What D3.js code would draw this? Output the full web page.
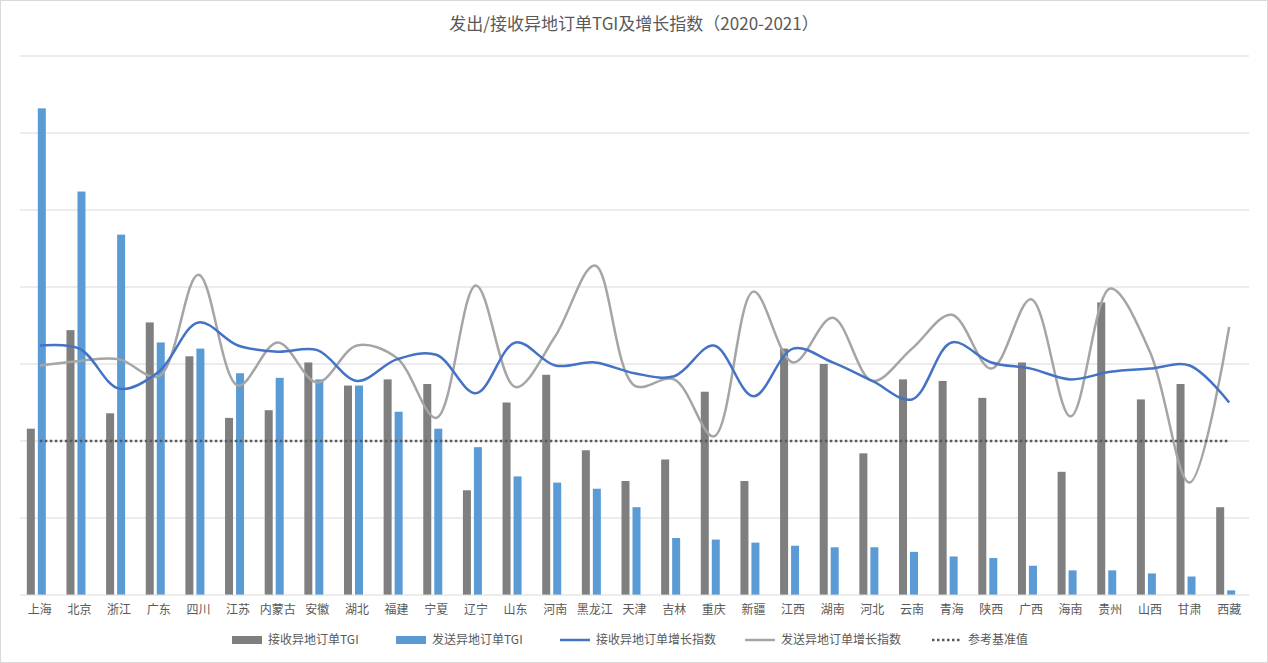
<!DOCTYPE html>
<html><head><meta charset="utf-8">
<script src="https://cdn.jsdelivr.net/npm/d3@7"></script>
<style>body{margin:0;background:#fff;font-family:"Noto Sans CJK SC","Noto Sans",sans-serif}</style>
</head><body><svg id="chart" width="1268" height="663"></svg>
<script>
var provinces = ["上海","北京","浙江","广东","四川","江苏","内蒙古","安徽","湖北","福建","宁夏","辽宁","山东","河南","黑龙江","天津","吉林","重庆","新疆","江西","湖南","河北","云南","青海","陕西","广西","海南","贵州","山西","甘肃","西藏"];
var receiveTGI = [108,172,118,177,155,115,120,151,136,140,137,68,125,143,94,74,88,132,74,160,150,92,140,139,128,151,80,190,127,137,57];
var sendTGI = [316,262,234,164,160,144,141,140,136,119,108,96,77,73,69,57,37,36,34,32,31,31,28,25,24,19,16,16,14,12,3];
var receiveGrowth = [162,160,134,145,177,162,158,159,139,153,156,131,164,149,151,144,142,162,129,160,151,139,127,164,151,147,140,145,147,149,125];
var sendGrowth = [149,152,153,142,208,136,164,138,162,154,115,201,135,168,214,136,140,103,197,151,180,139,160,182,147,192,116,199,158,73,174];
var baseline = 100;
var gridTicks = [0,50,100,150,200,250,300,350];

var svg = d3.select("#chart");
svg.append("rect").attr("x",0.5).attr("y",0.5).attr("width",1267).attr("height",662)
  .attr("fill","#fff").attr("stroke","#d9d9d9");

var x = d3.scaleBand().domain(provinces).range([20,1249]);
var y = d3.scaleLinear().domain([0,350]).range([595,56]);

svg.append("g").selectAll("line").data(gridTicks.slice(1)).enter().append("line")
  .attr("x1",20).attr("x2",1249).attr("y1",d=>y(d)).attr("y2",d=>y(d))
  .attr("stroke","#d9d9d9");

svg.append("g").selectAll("rect").data(provinces).enter().append("rect")
  .attr("x",d=>x(d)+x.bandwidth()/2-13).attr("width",8)
  .attr("y",(d,i)=>y(receiveTGI[i])).attr("height",(d,i)=>y(0)-y(receiveTGI[i]))
  .attr("fill","#7f7f7f");
svg.append("g").selectAll("rect").data(provinces).enter().append("rect")
  .attr("x",d=>x(d)+x.bandwidth()/2-2).attr("width",8)
  .attr("y",(d,i)=>y(sendTGI[i])).attr("height",(d,i)=>y(0)-y(sendTGI[i]))
  .attr("fill","#5b9bd5");

svg.append("line").attr("x1",20).attr("x2",1249).attr("y1",y(0)).attr("y2",y(0)).attr("stroke","#d9d9d9");

var line = d3.line().x((d,i)=>x(provinces[i])+x.bandwidth()/2).y(d=>y(d)).curve(d3.curveCatmullRom.alpha(0.5));
svg.append("path").attr("d",line(sendGrowth)).attr("fill","none").attr("stroke","#a5a5a5").attr("stroke-width",2.5);
svg.append("path").attr("d",line(receiveGrowth)).attr("fill","none").attr("stroke","#4472c4").attr("stroke-width",2.5);
svg.append("path").attr("d",d3.line().x((d,i)=>x(provinces[i])+x.bandwidth()/2).y(()=>y(baseline))(provinces))
  .attr("fill","none").attr("stroke","#595959").attr("stroke-width",2.5).attr("stroke-dasharray","2.5,2.5");

svg.append("g").selectAll("text").data(provinces).enter().append("text")
  .attr("x",d=>x(d)+x.bandwidth()/2).attr("y",614).attr("text-anchor","middle")
  .attr("font-size",12).attr("fill","#595959").text(d=>d);

svg.append("text").attr("x",634).attr("y",30).attr("text-anchor","middle")
  .attr("font-size",17).attr("fill","#595959").text("发出/接收异地订单TGI及增长指数（2020-2021）");

var legend = [
  {name:"接收异地订单TGI",type:"bar",color:"#7f7f7f",x:232},
  {name:"发送异地订单TGI",type:"bar",color:"#5b9bd5",x:396},
  {name:"接收异地订单增长指数",type:"line",color:"#4472c4",x:560},
  {name:"发送异地订单增长指数",type:"line",color:"#a5a5a5",x:745},
  {name:"参考基准值",type:"dot",color:"#595959",x:932}
];
var lg = svg.append("g").selectAll("g").data(legend).enter().append("g")
  .attr("transform",d=>"translate("+d.x+",640)");
lg.each(function(d){
  var g = d3.select(this);
  if(d.type==="bar") g.append("rect").attr("x",0).attr("y",-4).attr("width",30).attr("height",8).attr("fill",d.color);
  else g.append("line").attr("x1",0).attr("x2",30).attr("y1",0).attr("y2",0).attr("stroke",d.color)
    .attr("stroke-width",2.5).attr("stroke-dasharray",d.type==="dot"?"2.5,2.5":null);
});
lg.append("text").attr("x",36).attr("y",4).attr("font-size",12).attr("fill","#595959").text(d=>d.name);
</script></body></html>
